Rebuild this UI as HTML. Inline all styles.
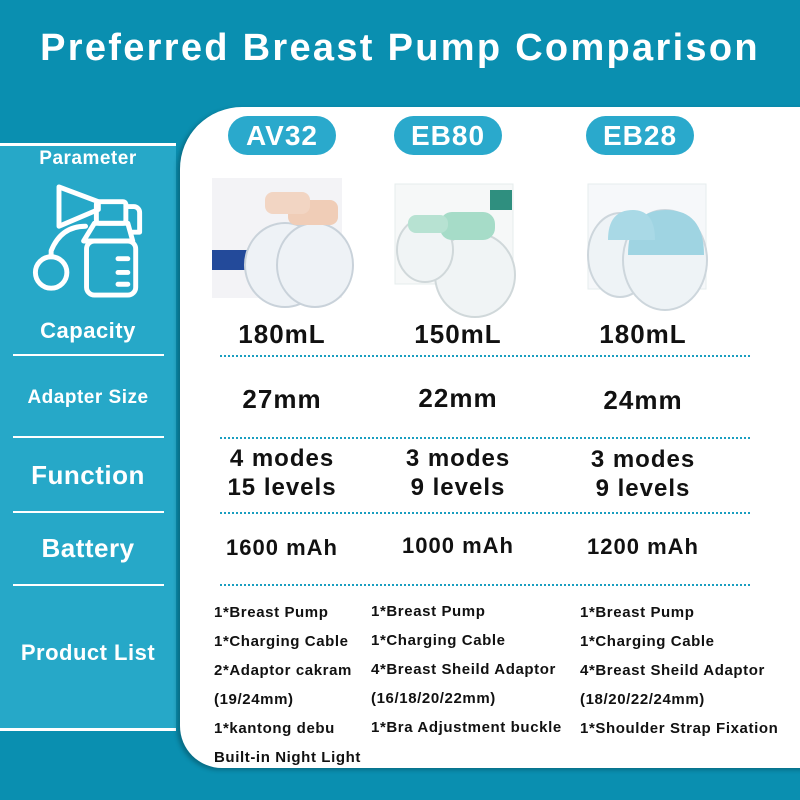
<!DOCTYPE html>
<html><head><style>
*{margin:0;padding:0;box-sizing:border-box}
body{width:800px;height:800px;overflow:hidden;background:#0a8fb0;font-family:"Liberation Sans","DejaVu Sans",sans-serif;position:relative}
.t{position:absolute;white-space:nowrap;font-weight:bold}
.h{left:0;width:800px;text-align:center;top:27px;color:#fff;font-size:38px;letter-spacing:2.3px}
#left{position:absolute;left:0;top:143px;width:176px;height:588px;background:#26a8c8;border-top:3px solid #fff;border-bottom:3px solid #fff}
.ll{position:absolute;left:0;width:176px;text-align:center;color:#fff;font-size:22px;font-weight:bold;letter-spacing:0.5px}
.sep{position:absolute;left:13px;width:151px;height:2px;background:#fff}
#card{position:absolute;left:180px;top:107px;width:640px;height:661px;background:#fff;border-radius:62px 0 0 42px;box-shadow:-3px 2px 4px rgba(0,0,0,.25)}
.pill{position:absolute;top:116px;height:39px;width:108px;border-radius:20px;background:#2aa9cc;color:#fff;font-size:28px;font-weight:bold;text-align:center;line-height:39px;letter-spacing:1px}
.v{position:absolute;width:180px;text-align:center;font-size:26px;font-weight:bold;color:#111;line-height:29px;letter-spacing:1px}
.dot{position:absolute;left:220px;width:530px;height:0;border-top:2px dotted #1a9ec0}
.pl{position:absolute;font-size:15px;font-weight:bold;color:#111;line-height:29px;white-space:nowrap;letter-spacing:0.6px}
</style></head><body>
<div class="t h">Preferred Breast Pump Comparison</div>
<div id="left"></div>
<div class="ll" style="top:148px;font-size:19px">Parameter</div>
<svg style="position:absolute;left:26px;top:182px" width="125" height="118" viewBox="0 0 120 120" fill="none" stroke="#fff" stroke-width="5" stroke-linecap="round" stroke-linejoin="round">
<path d="M30 5 L30 45 L70 28 L70 20 Z"/><rect x="68" y="20" width="30" height="22" rx="3"/><path d="M98 25 h8 a6 6 0 0 1 6 6 v20 h-8"/>
<rect x="58" y="60" width="50" height="55" rx="8"/><path d="M66 42 h34 l5 18 h-50 z"/>
<path d="M90 78 h10 M90 92 h10 M90 104 h10"/><circle cx="22" cy="92" r="16"/><path d="M22 76 v-6 q10 -25 35 -25"/>
</svg>
<div class="ll" style="top:318px">Capacity</div>
<div class="sep" style="top:354px"></div>
<div class="ll" style="top:387px;font-size:19px">Adapter Size</div>
<div class="sep" style="top:436px"></div>
<div class="ll" style="top:460px;font-size:26px">Function</div>
<div class="sep" style="top:511px"></div>
<div class="ll" style="top:533px;font-size:26px">Battery</div>
<div class="sep" style="top:584px"></div>
<div class="ll" style="top:640px">Product List</div>
<div id="card"></div>
<div class="pill" style="left:228px">AV32</div>
<div class="pill" style="left:394px">EB80</div>
<div class="pill" style="left:586px">EB28</div>
<svg style="position:absolute;left:200px;top:170px" width="600" height="150">
<rect x="12" y="8" width="130" height="120" fill="#f3f3f6"/><rect x="12" y="80" width="95" height="20" fill="#234a9a"/>
<ellipse cx="85" cy="95" rx="40" ry="42" fill="#eef2f6" stroke="#c9d2da" stroke-width="2"/>
<ellipse cx="115" cy="95" rx="38" ry="42" fill="#eef2f6" stroke="#c9d2da" stroke-width="2"/>
<rect x="88" y="30" width="50" height="25" rx="8" fill="#f0cdb7"/><rect x="65" y="22" width="45" height="22" rx="8" fill="#f2d5c3"/>
<rect x="195" y="14" width="118" height="100" fill="#f6f8f8" stroke="#e6ecec"/><rect x="290" y="20" width="22" height="20" fill="#2f8f7f"/>
<ellipse cx="275" cy="105" rx="40" ry="42" fill="#f0f4f5" stroke="#d0d8da" stroke-width="2"/>
<ellipse cx="225" cy="80" rx="28" ry="32" fill="#f0f4f5" stroke="#d0d8da" stroke-width="2"/>
<rect x="240" y="42" width="55" height="28" rx="12" fill="#a6dcc8"/><rect x="208" y="45" width="40" height="18" rx="8" fill="#b7e2d2"/>
<rect x="388" y="14" width="118" height="105" fill="#f6f8fa" stroke="#e6ecee"/>
<ellipse cx="420" cy="85" rx="32" ry="42" fill="#eef3f6" stroke="#cdd6dc" stroke-width="2"/>
<ellipse cx="465" cy="90" rx="42" ry="50" fill="#eef3f6" stroke="#cdd6dc" stroke-width="2"/>
<path d="M428 85 q0 -45 38 -45 q38 0 38 45 z" fill="#9fd4e2"/><path d="M408 70 q0 -30 25 -30 q22 0 22 30 z" fill="#a9d9e6"/>
</svg>
<div class="v" style="left:192px;top:320px">180mL</div>
<div class="v" style="left:368px;top:320px">150mL</div>
<div class="v" style="left:553px;top:320px">180mL</div>
<div class="dot" style="top:355px"></div>
<div class="v" style="left:192px;top:385px">27mm</div>
<div class="v" style="left:368px;top:384px">22mm</div>
<div class="v" style="left:553px;top:386px">24mm</div>
<div class="dot" style="top:437px"></div>
<div class="v" style="left:192px;top:444px;font-size:24px">4 modes<br>15 levels</div>
<div class="v" style="left:368px;top:444px;font-size:24px">3 modes<br>9 levels</div>
<div class="v" style="left:553px;top:445px;font-size:24px">3 modes<br>9 levels</div>
<div class="dot" style="top:512px"></div>
<div class="v" style="left:192px;top:533px;font-size:22px">1600 mAh</div>
<div class="v" style="left:368px;top:531px;font-size:22px">1000 mAh</div>
<div class="v" style="left:553px;top:532px;font-size:22px">1200 mAh</div>
<div class="dot" style="top:584px"></div>
<div class="pl" style="left:214px;top:598px">1*Breast Pump<br>1*Charging Cable<br>2*Adaptor cakram<br>(19/24mm)<br>1*kantong debu<br>Built-in Night Light</div>
<div class="pl" style="left:371px;top:597px">1*Breast Pump<br>1*Charging Cable<br>4*Breast Sheild Adaptor<br>(16/18/20/22mm)<br>1*Bra Adjustment buckle</div>
<div class="pl" style="left:580px;top:598px">1*Breast Pump<br>1*Charging Cable<br>4*Breast Sheild Adaptor<br>(18/20/22/24mm)<br>1*Shoulder Strap Fixation</div>
</body></html>
